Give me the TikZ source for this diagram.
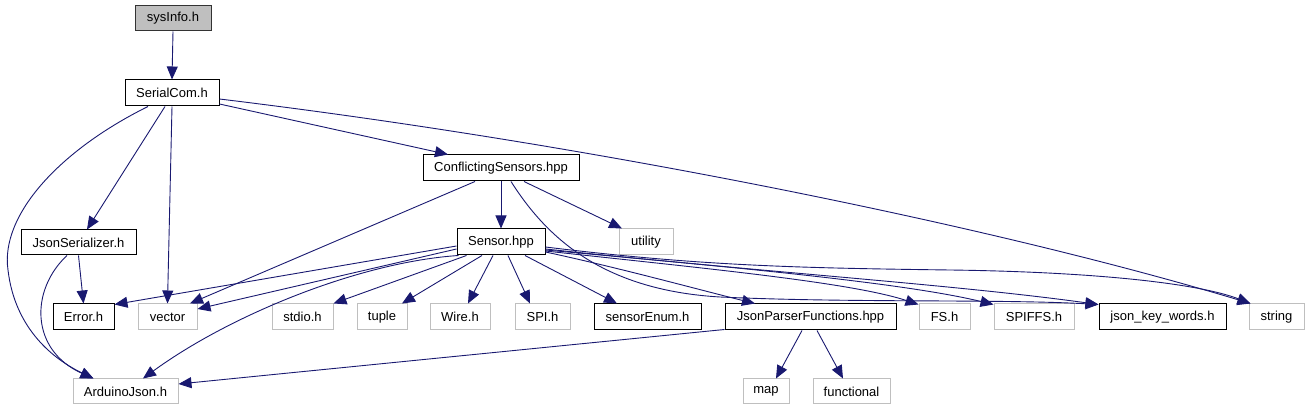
\documentclass[tikz,border=0pt]{standalone}
\usepackage{fontspec}
\setmainfont{Liberation Sans}
\usetikzlibrary{arrows.meta}
\definecolor{edgeblue}{HTML}{191970}
\definecolor{grayborder}{HTML}{BFBFBF}
\definecolor{rootfill}{HTML}{BFBFBF}
\tikzset{
  box/.style={draw=black, line width=1pt, fill=white, inner sep=0pt, minimum height=26pt,
    font=\fontsize{13}{15}\selectfont},
  ext/.style={box, draw=grayborder},
  root/.style={box, fill=rootfill, draw=black!80},
  dep/.style={draw=edgeblue, line width=0.9pt, -{Triangle[length=13pt,width=11pt]}, fill=none},
}
\begin{document}
\begin{tikzpicture}[x=1pt,y=-1pt]
\useasboundingbox (0,0) rectangle (1310,411);
% nodes
\node[root, minimum width=76pt, minimum height=25pt] (sysinfo) at (173,18.5) {sysInfo.h};
\node[box, minimum width=94pt] (serial) at (172,93) {SerialCom.h};
\node[box, minimum width=156pt] (conf) at (501,168) {ConflictingSensors.hpp};
\node[box, minimum width=88pt] (sensor) at (501,242) {Sensor.hpp};
\node[ext, minimum width=54pt] (utility) at (646,242) {utility};
\node[box, minimum width=115pt, minimum height=25pt] (jser) at (78.5,242.5) {JsonSerializer.h};
\node[box, minimum width=61pt] (error) at (83.5,317) {Error.h};
\node[ext, minimum width=59pt] (vector) at (167.5,317) {vector};
\node[ext, minimum width=61pt] (stdio) at (302.5,317) {stdio.h};
\node[ext, minimum width=50pt] (tuple) at (382,317) {tuple};
\node[ext, minimum width=60pt] (wire) at (460,317) {Wire.h};
\node[ext, minimum width=55pt] (spi) at (542.5,317) {SPI.h};
\node[box, minimum width=107pt] (senum) at (647.5,317) {sensorEnum.h};
\node[box, minimum width=171pt] (jpf) at (810.5,317) {JsonParserFunctions.hpp};
\node[ext, minimum width=51pt] (fs) at (944.5,317) {FS.h};
\node[ext, minimum width=80pt] (spiffs) at (1034,317) {SPIFFS.h};
\node[box, minimum width=127pt] (jkw) at (1162.5,317) {json\_key\_words.h};
\node[ext, minimum width=55pt] (string) at (1276.5,317) {string};
\node[ext, minimum width=105pt, minimum height=25pt] (arduino) at (125.5,391.5) {ArduinoJson.h};
\node[ext, minimum width=46pt, minimum height=25pt] (map) at (766,391.5) {map};
\node[ext, minimum width=77pt, minimum height=25pt] (functional) at (851.5,391.5) {functional};
% edges
\draw[dep] (sysinfo.south) -- (serial.north);
\draw[dep] ([xshift=-24pt]serial.south) .. controls (60,150) and (0,215) .. (8,270)
  .. controls (15,330) and (55,360) .. ([xshift=-32pt]arduino.north);
\draw[dep] ([xshift=-7pt]serial.south) -- ([xshift=8.5pt]jser.north);
\draw[dep] (serial.south) -- (vector.north);
\draw[dep] ([yshift=-11pt]serial.east) -- ([xshift=-53pt]conf.north);
\draw[dep] ([yshift=-6pt]serial.east) .. controls (600,145) and (1000,228) .. ([xshift=2pt]string.north west);
\draw[dep] ([xshift=-26pt]conf.south) -- ([xshift=22.5pt]vector.north);
\draw[dep] (conf.south) -- (sensor.north);
\draw[dep] ([xshift=23pt]conf.south) -- ([xshift=-24pt]utility.north);
\draw[dep] ([xshift=10pt]conf.south) .. controls (545,235) and (600,290) .. (720,297)
  .. controls (850,303) and (1000,299) .. ([yshift=-1pt]jkw.north west);
\draw[dep] (jser.south) -- (error.north);
\draw[dep] ([xshift=-11.5pt]jser.south) .. controls (30,290) and (30,350) .. ([xshift=-32pt]arduino.north);
\draw[dep] ([yshift=-4pt]sensor.west) -- ([yshift=-1pt]error.north east);
\draw[dep] ([yshift=-7pt]sensor.west) -- ([yshift=8pt]vector.east);
\draw[dep] ([xshift=2pt]sensor.south west) .. controls (360,262) and (230,315) .. ([xshift=17.5pt]arduino.north);
\draw[dep] ([xshift=10pt]sensor.south west) -- (stdio.north east);
\draw[dep] ([xshift=-19pt]sensor.south) -- ([xshift=20pt]tuple.north);
\draw[dep] ([xshift=-8pt]sensor.south) -- ([xshift=8pt]wire.north);
\draw[dep] ([xshift=7pt]sensor.south) -- ([xshift=-12.5pt]spi.north);
\draw[dep] ([xshift=24pt]sensor.south) -- ([xshift=-30.5pt]senum.north);
\draw[dep] ([yshift=-10pt]sensor.east) .. controls (620,268) and (700,290) .. ([xshift=-55.5pt]jpf.north);
\draw[dep] ([yshift=-9pt]sensor.east) .. controls (700,268) and (850,282) .. ([yshift=-1pt]fs.north west);
\draw[dep] ([yshift=-8pt]sensor.east) .. controls (720,266) and (900,282) .. ([yshift=-1pt]spiffs.north west);
\draw[dep] ([yshift=-7pt]sensor.east) .. controls (760,272) and (950,284) .. ([yshift=-1pt]jkw.north west);
\draw[dep] ([yshift=-5pt]sensor.east) .. controls (700,266) and (800,268) .. (950,270)
  .. controls (1100,272) and (1200,284) .. ([xshift=2pt]string.north west);
\draw[dep] ([yshift=1pt]jpf.south west) -- ([yshift=7.5pt]arduino.east);
\draw[dep] ([xshift=-8.5pt]jpf.south) -- ([xshift=10pt]map.north);
\draw[dep] ([xshift=6.5pt]jpf.south) -- ([xshift=-8.5pt]functional.north);
\end{tikzpicture}
\end{document}
